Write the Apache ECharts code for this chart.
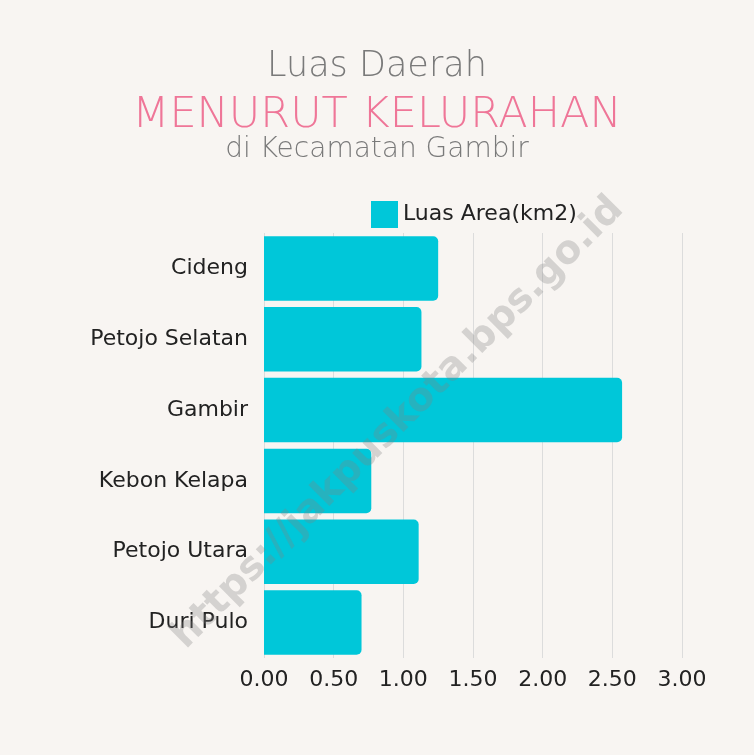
<!DOCTYPE html>
<html>
<head>
<meta charset="utf-8">
<script src="https://cdn.jsdelivr.net/npm/echarts@6/dist/echarts.min.js"></script>
<style>
  html, body { margin: 0; padding: 0; background: #f8f5f2; }
  #myCharts { width: 754px; height: 755px; }
</style>
</head>
<body>
<div id="myCharts"></div>
<script>
// data
const categories = ["Cideng", "Petojo Selatan", "Gambir", "Kebon Kelapa", "Petojo Utara", "Duri Pulo"];
const luasArea = [1.25, 1.13, 2.57, 0.77, 1.11, 0.70];
const seriesName = "Luas Area(km2)";

const myCharts = echarts.init(document.getElementById("myCharts"));
const labelFont = "'DejaVu Sans', sans-serif";
const titleFont = "'DejaVu Sans ExtraLight', 'DejaVu Sans Light', 'DejaVu Sans', sans-serif";

let option = {
  backgroundColor: "#f8f5f2",
  title: [
    {
      text: "Luas Daerah",
      left: "center",
      top: 44,
      textStyle: { color: "#7a7a7a", fontSize: 35, fontWeight: 200, fontFamily: titleFont }
    },
    {
      text: "MENURUT KELURAHAN",
      left: "center",
      top: 89,
      textStyle: { color: "#ef7698", fontSize: 43, fontWeight: 200, fontFamily: titleFont }
    },
    {
      text: "di Kecamatan Gambir",
      left: "center",
      top: 131,
      textStyle: { color: "#7a7a7a", fontSize: 28, fontWeight: 200, fontFamily: titleFont }
    }
  ],
  legend: {
    data: [{ name: seriesName, icon: "rect" }],
    left: 366,
    top: 196,
    itemWidth: 27,
    itemHeight: 27,
    itemGap: 6,
    textStyle: { color: "#222", fontSize: 22, fontFamily: labelFont }
  },
  grid: {
    left: 264,
    right: 72,
    top: 233,
    bottom: 97,
    containLabel: false
  },
  xAxis: {
    type: "value",
    min: 0,
    max: 3,
    interval: 0.5,
    axisLine: { show: false },
    axisTick: { show: false },
    splitLine: { lineStyle: { color: "#dcdcdc", width: 1 } },
    axisLabel: {
      color: "#222",
      fontSize: 22,
      fontFamily: labelFont,
      margin: 11,
      formatter: v => v.toFixed(2)
    }
  },
  yAxis: {
    type: "category",
    inverse: true,
    data: categories,
    axisLine: { show: false },
    axisTick: { show: false },
    axisLabel: { color: "#222", fontSize: 22, fontFamily: labelFont, margin: 16 }
  },
  series: [
    {
      name: seriesName,
      type: "bar",
      data: luasArea,
      barCategoryGap: "9%",
      itemStyle: { color: "#00c7d9", borderRadius: [0, 5, 5, 0] }
    }
  ],
  graphic: [
    {
      type: "text",
      x: 398,
      y: 423,
      rotation: Math.PI / 4,
      z: 100,
      style: {
        text: "https://jakpuskota.bps.go.id",
        fill: "rgba(130,130,130,0.3)",
        font: "bold 39px 'DejaVu Sans', sans-serif",
        textAlign: "center",
        textVerticalAlign: "middle"
      }
    }
  ]
};
myCharts.setOption(option);
</script>
</body>
</html>
